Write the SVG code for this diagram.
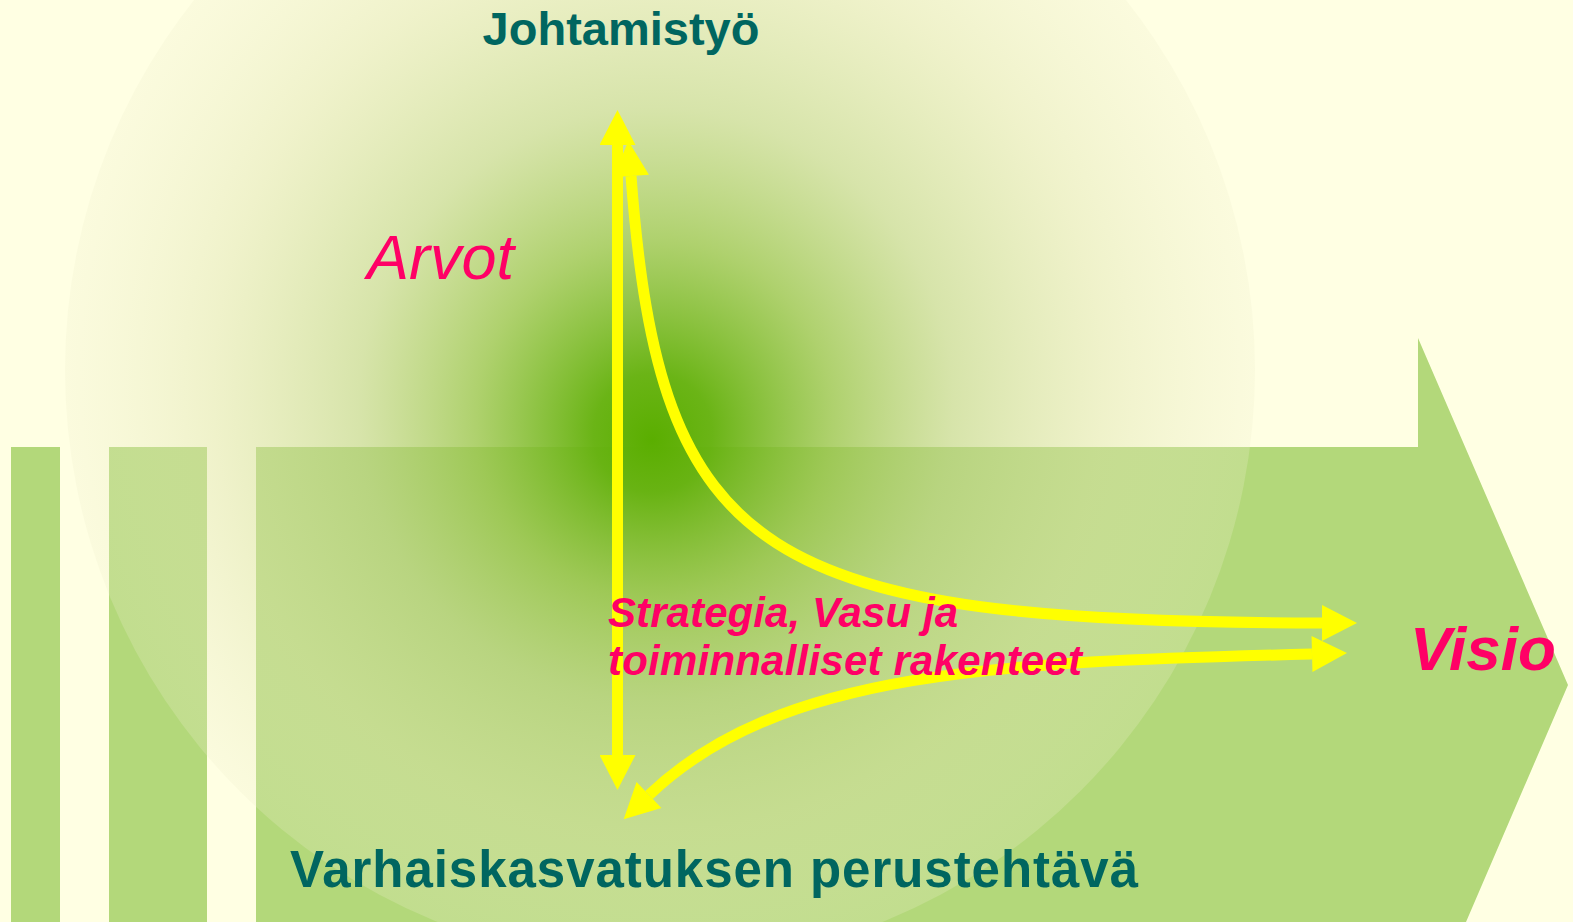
<svg xmlns="http://www.w3.org/2000/svg" width="1573" height="922" viewBox="0 0 1573 922">
<style>
.bar{fill:#B3D87A}
.yl{fill:none;stroke:#FFFF00;stroke-width:11}
.teal{font-family:"Liberation Sans",Arial,sans-serif;font-weight:bold;fill:#006660}
.pink{font-family:"Liberation Sans",Arial,sans-serif;fill:#FF0066;font-style:italic}
</style>
<defs>
<radialGradient id="glow" gradientUnits="userSpaceOnUse" cx="660" cy="370" r="595" fx="652" fy="440">
<stop offset="0" stop-color="#5AAE00" stop-opacity="1"/>
<stop offset="0.1" stop-color="#66B210" stop-opacity="0.97"/>
<stop offset="0.3" stop-color="#98C44C" stop-opacity="0.78"/>
<stop offset="0.5" stop-color="#BCD284" stop-opacity="0.6"/>
<stop offset="0.75" stop-color="#DCE2AC" stop-opacity="0.45"/>
<stop offset="1" stop-color="#EEEECC" stop-opacity="0.25"/>
</radialGradient>
<marker id="ah" markerUnits="userSpaceOnUse" markerWidth="36" markerHeight="36" refX="0" refY="18" orient="auto-start-reverse" viewBox="0 0 35 36">
<path d="M0,0 L35,18 L0,36 z" fill="#FFFF00"/>
</marker>
</defs>
<rect width="1573" height="922" fill="#FFFFE3"/>
<g id="bars">
<rect class="bar" x="11" y="447" width="49" height="475"/>
<rect class="bar" x="109" y="447" width="98" height="475"/>
<path class="bar" d="M256,447 L1418,447 L1418,338 L1568,685 L1466,922 L256,922 z"/>
</g>
<circle id="glow-circle" cx="660" cy="370" r="595" fill="url(#glow)"/>
<g id="connectors">
<path class="yl" d="M617.5,145 L617.5,755" marker-start="url(#ah)" marker-end="url(#ah)"/>
<path class="yl" d="M631,176 C660,560 760,622 1322,623" marker-start="url(#ah)" marker-end="url(#ah)"/>
<path class="yl" d="M1312,654 C1000,662 780,670 649,795" marker-start="url(#ah)" marker-end="url(#ah)"/>
</g>
<g id="johtamistyo"><text class="teal" x="621" y="45" font-size="47" text-anchor="middle">Johtamistyö</text></g>
<g id="arvot"><text class="pink" x="367" y="279" font-size="63">Arvot</text></g>
<g id="strategia"><text class="pink" font-weight="bold" font-size="42" x="608" y="627" textLength="350">Strategia, Vasu ja</text><text class="pink" font-weight="bold" font-size="42" x="608" y="675" textLength="474">toiminnalliset rakenteet</text></g>
<g id="visio"><text class="pink" font-weight="bold" font-size="62" x="1410" y="670">Visio</text></g>
<g id="perustehtava"><text class="teal" x="290" y="887" font-size="51" textLength="848">Varhaiskasvatuksen perustehtävä</text></g>
</svg>
